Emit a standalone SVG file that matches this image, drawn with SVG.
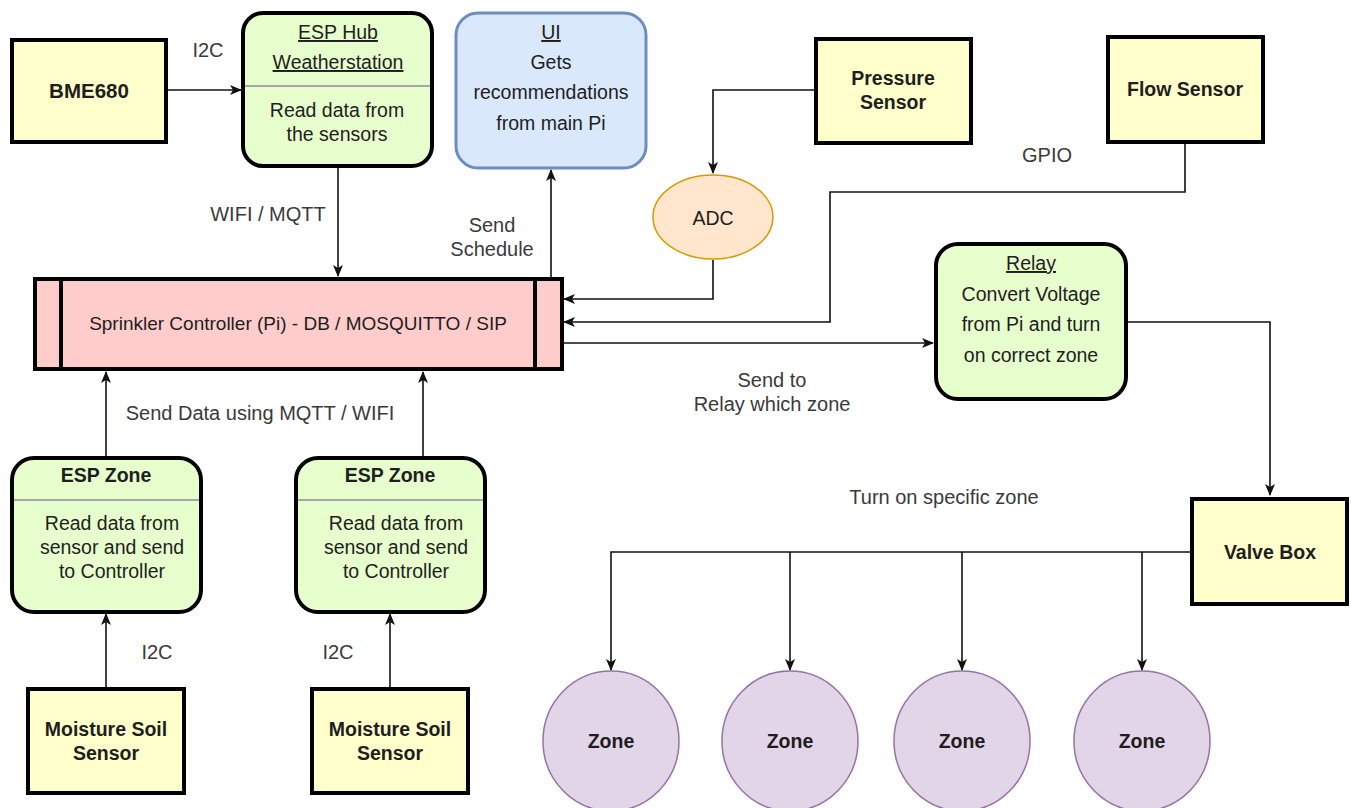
<svg xmlns="http://www.w3.org/2000/svg" width="1351" height="808" viewBox="0 0 1351 808">
<style>
text{font-family:"Liberation Sans",Arial,sans-serif;font-size:19.5px;fill:#1e1e1e;text-anchor:middle}
.b{font-weight:bold}
.lbl{fill:#3a3a3a;font-size:20px}
.u{text-decoration:underline}
.yel{fill:#ffffcc;stroke:#000;stroke-width:4}
.grn{fill:#e6ffcc;stroke:#000;stroke-width:4}
.sep{stroke:#a6a6a6;stroke-width:2}
.zone{fill:#e1d5e7;stroke:#9673a6;stroke-width:1.5}
.c{fill:none;stroke:#111;stroke-width:1.6}
</style>
<defs>
<marker id="ah" viewBox="0 0 12 10" refX="11" refY="5" markerWidth="12" markerHeight="10" markerUnits="userSpaceOnUse" orient="auto">
<path d="M0,0 L12,5 L0,10 L3,5 z" fill="#111"/>
</marker>
</defs>
<rect width="1351" height="808" fill="#fff"/>

<g id="connectors">
<path class="c" d="M166,90 H241" marker-end="url(#ah)"/>
<path class="c" d="M338,166 V276" marker-end="url(#ah)"/>
<path class="c" d="M551,278 V170" marker-end="url(#ah)"/>
<path class="c" d="M815,90 H713 V173" marker-end="url(#ah)"/>
<path class="c" d="M713,260 V299 H564" marker-end="url(#ah)"/>
<path class="c" d="M1185,142 V192 H830 V322 H564" marker-end="url(#ah)"/>
<path class="c" d="M562,343 H933" marker-end="url(#ah)"/>
<path class="c" d="M1127,322 H1270 V495" marker-end="url(#ah)"/>
<path class="c" d="M106,457 V372" marker-end="url(#ah)"/>
<path class="c" d="M423,457 V372" marker-end="url(#ah)"/>
<path class="c" d="M106,688 V614" marker-end="url(#ah)"/>
<path class="c" d="M390,688 V614" marker-end="url(#ah)"/>
<path class="c" d="M1190,552 H611 V670" marker-end="url(#ah)"/>
<path class="c" d="M790,552 V670" marker-end="url(#ah)"/>
<path class="c" d="M962,552 V670" marker-end="url(#ah)"/>
<path class="c" d="M1142,552 V670" marker-end="url(#ah)"/>
<text class="lbl" x="208" y="57">I2C</text>
<text class="lbl" x="268" y="221">WIFI / MQTT</text>
<text class="lbl" x="492" y="232">Send</text>
<text class="lbl" x="492" y="256">Schedule</text>
<text class="lbl" x="1047" y="162">GPIO</text>
<text class="lbl" x="772" y="387">Send to</text>
<text class="lbl" x="772" y="411">Relay which zone</text>
<text class="lbl" x="260" y="420">Send Data using MQTT / WIFI</text>
<text class="lbl" x="157" y="659">I2C</text>
<text class="lbl" x="338" y="659">I2C</text>
<text class="lbl" x="944" y="504">Turn on specific zone</text>
</g>

<g id="bme680">
<rect class="yel" x="12" y="40" width="154" height="102"/>
<text class="b" x="89" y="98" style="font-size:20.5px">BME680</text>
</g>

<g id="esp-hub">
<rect class="grn" x="243" y="13" width="189" height="153" rx="20"/>
<line class="sep" x1="245" y1="86" x2="430" y2="86"/>
<text class="u" x="338" y="39">ESP Hub </text>
<text class="u" x="338" y="69">Weatherstation</text>
<text x="337" y="117">Read data from</text>
<text x="337" y="141">the sensors</text>
</g>

<g id="ui">
<rect x="456" y="13" width="190" height="155" rx="22" fill="#dae8fc" stroke="#6c8ebf" stroke-width="3"/>
<text class="u" x="551" y="39">UI</text>
<text x="551" y="69">Gets</text>
<text x="551" y="99">recommendations</text>
<text x="551" y="130">from main Pi</text>
</g>

<g id="pressure-sensor">
<rect class="yel" x="816" y="39" width="155" height="104"/>
<text class="b" x="893" y="85">Pressure</text>
<text class="b" x="893" y="109">Sensor</text>
</g>

<g id="flow-sensor">
<rect class="yel" x="1108" y="37" width="155" height="105"/>
<text class="b" x="1185" y="96">Flow Sensor</text>
</g>

<g id="adc">
<ellipse cx="713" cy="217" rx="60" ry="42" fill="#ffe6cc" stroke="#d79b00" stroke-width="1.5"/>
<text x="713" y="225">ADC</text>
</g>

<g id="controller">
<rect x="35" y="279" width="527" height="90" fill="#ffcccc" stroke="#000" stroke-width="4"/>
<line x1="61" y1="279" x2="61" y2="369" stroke="#000" stroke-width="4"/>
<line x1="535" y1="279" x2="535" y2="369" stroke="#000" stroke-width="4"/>
<text x="298" y="330" style="font-size:19px">Sprinkler Controller (Pi) - DB / MOSQUITTO / SIP</text>
</g>

<g id="relay">
<rect class="grn" x="936" y="244" width="190" height="155" rx="22"/>
<text class="u" x="1031" y="270">Relay</text>
<text x="1031" y="301">Convert Voltage</text>
<text x="1031" y="331">from Pi and turn</text>
<text x="1031" y="362">on correct zone</text>
</g>

<g id="esp-zone-1">
<rect class="grn" x="12" y="458" width="189" height="154" rx="22"/>
<line class="sep" x1="14" y1="500" x2="199" y2="500"/>
<text class="b" x="106" y="482">ESP Zone</text>
<text x="112" y="530">Read data from</text>
<text x="112" y="554">sensor and send</text>
<text x="112" y="578">to Controller</text>
</g>

<g id="esp-zone-2">
<rect class="grn" x="296" y="458" width="189" height="154" rx="22"/>
<line class="sep" x1="298" y1="500" x2="483" y2="500"/>
<text class="b" x="390" y="482">ESP Zone</text>
<text x="396" y="530">Read data from</text>
<text x="396" y="554">sensor and send</text>
<text x="396" y="578">to Controller</text>
</g>

<g id="moisture-1">
<rect class="yel" x="28" y="689" width="156" height="104"/>
<text class="b" x="106" y="736">Moisture Soil</text>
<text class="b" x="106" y="760">Sensor</text>
</g>

<g id="moisture-2">
<rect class="yel" x="312" y="689" width="156" height="104"/>
<text class="b" x="390" y="736">Moisture Soil</text>
<text class="b" x="390" y="760">Sensor</text>
</g>

<g id="valve-box">
<rect class="yel" x="1192" y="499" width="155" height="105"/>
<text class="b" x="1270" y="559">Valve Box</text>
</g>

<g id="zone-1"><ellipse class="zone" cx="611" cy="741" rx="68" ry="70"/><text class="b" x="611" y="748">Zone</text></g>
<g id="zone-2"><ellipse class="zone" cx="790" cy="741" rx="68" ry="70"/><text class="b" x="790" y="748">Zone</text></g>
<g id="zone-3"><ellipse class="zone" cx="962" cy="741" rx="68" ry="70"/><text class="b" x="962" y="748">Zone</text></g>
<g id="zone-4"><ellipse class="zone" cx="1142" cy="741" rx="68" ry="70"/><text class="b" x="1142" y="748">Zone</text></g>
</svg>
